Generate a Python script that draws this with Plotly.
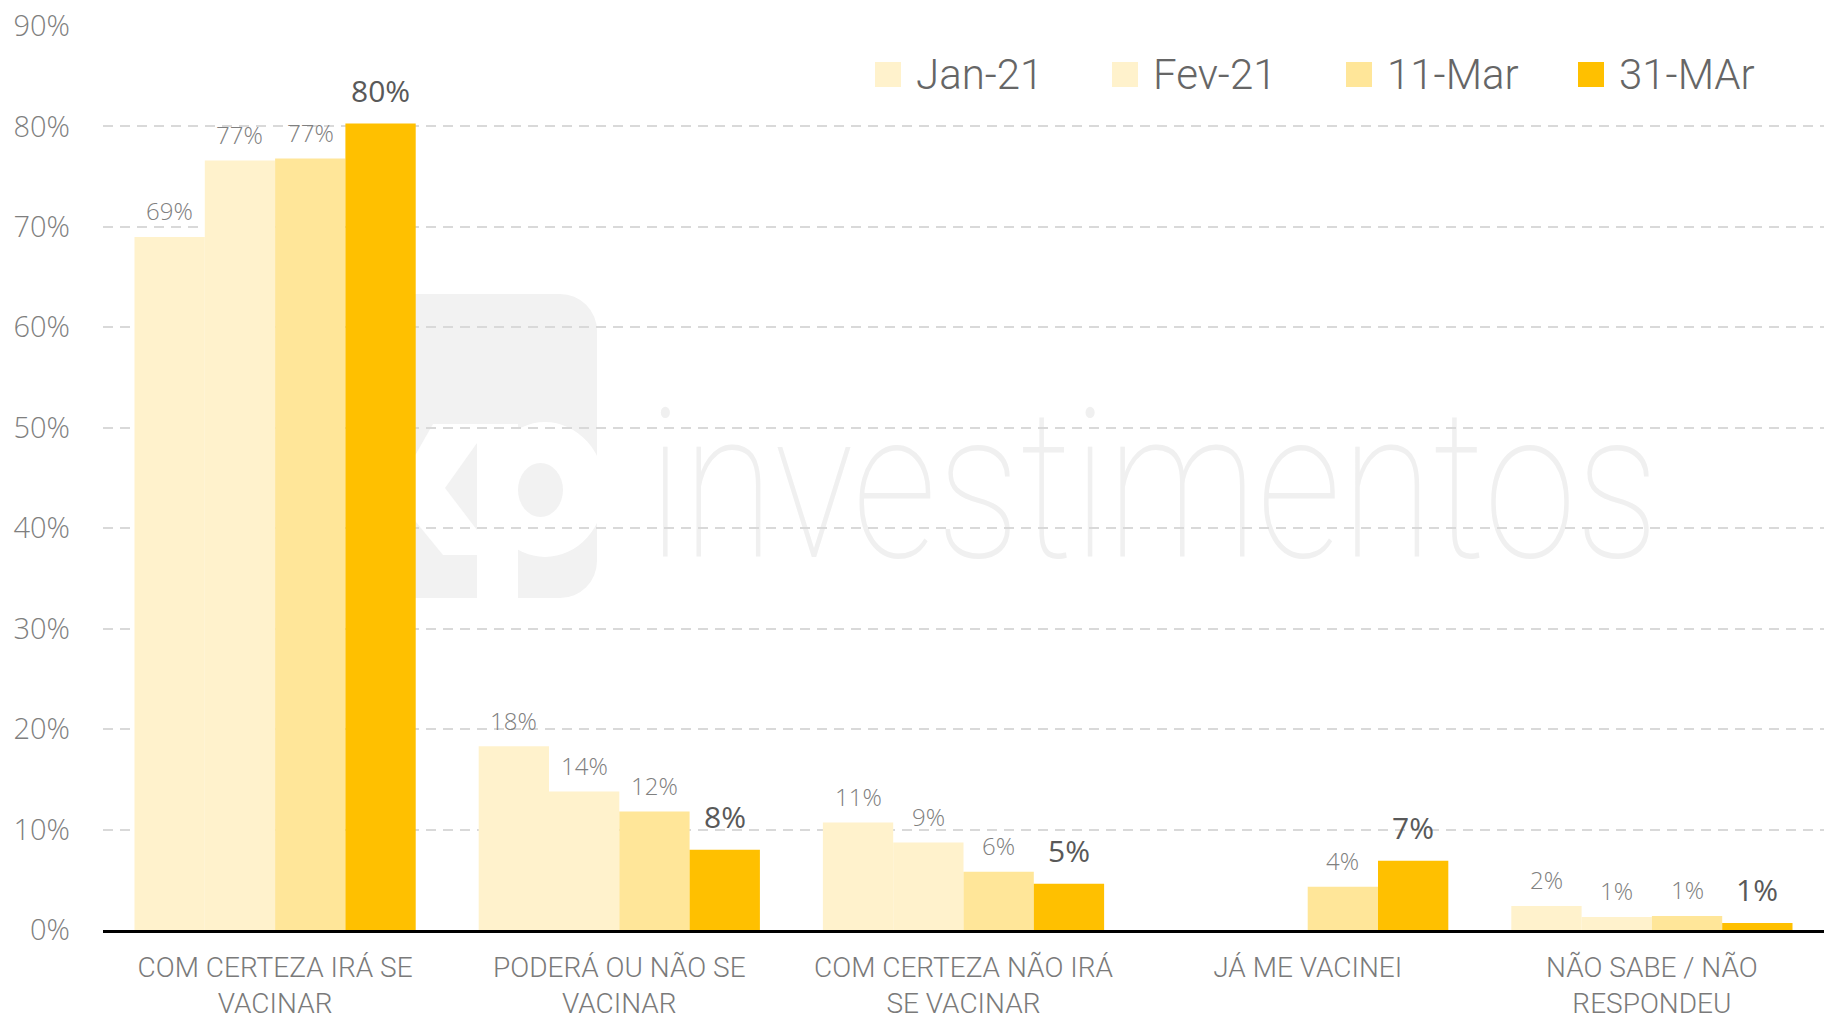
import base64
import plotly.graph_objects as go

# ---------------- data ----------------
categories = [
    "COM CERTEZA IRÁ SE<br>VACINAR",
    "PODERÁ OU NÃO SE<br>VACINAR",
    "COM CERTEZA NÃO IRÁ<br>SE VACINAR",
    "JÁ ME VACINEI",
    "NÃO SABE / NÃO<br>RESPONDEU",
]
series_names = ["Jan-21", "Fev-21", "11-Mar", "31-MAr"]
jan21 = [69.0, 18.3, 10.7, None, 2.4]
fev21 = [76.6, 13.8, 8.7, None, 1.3]
mar11 = [76.8, 11.8, 5.8, 4.3, 1.4]
mar31 = [80.3, 8.0, 4.6, 6.9, 0.7]
y_tick_values = [0, 10, 20, 30, 40, 50, 60, 70, 80, 90]
y_tick_labels = ["0%", "10%", "20%", "30%", "40%", "50%", "60%", "70%", "80%", "90%"]

series_values = [jan21, fev21, mar11, mar31]
colors = ["#FFF2CC", "#FFF2CC", "#FFE699", "#FFC000"]

# ---------------- layout geometry ----------------
FIG_W, FIG_H = 1824, 1022
L, R, T, B = 103, 0, 26, 92
W = FIG_W - L - R
H = FIG_H - T - B
BARGAP = 0.183
FONT = "Roboto"
FONT2 = "Open Sans"


def xp(px):
    return (px - L) / W


def yp(py):
    return (T + H - py) / H


fig = go.Figure()
for name, vals, col in zip(series_names, series_values, colors):
    fig.add_trace(go.Bar(
        x=categories, y=vals, name=name,
        marker=dict(color=col, line=dict(width=0)),
        showlegend=False, hoverinfo="skip",
    ))

# ---------------- data labels ----------------
pitch = W / len(categories)
barw = pitch * (1 - BARGAP) / len(series_names)
annotations = []
for i, vals in enumerate(series_values):
    last = i == len(series_values) - 1
    for cat, v in zip(categories, vals):
        if v is None:
            continue
        annotations.append(dict(
            x=cat, y=v, xref="x", yref="y",
            text=f"{v:.0f}%", showarrow=False,
            xanchor="center", yanchor="middle",
            xshift=(i - 1.5) * barw,
            yshift=33 if last else 26,
            font=dict(family=FONT2, size=30 if last else 24,
                      color="#595959" if last else "#808080",
                      weight=500 if last else 300),
        ))

# ---------------- manual legend ----------------
legend_x = [875, 1112, 1346, 1578]
shapes = []
for name, col, lx in zip(series_names, colors, legend_x):
    shapes.append(dict(type="rect", xref="paper", yref="paper",
                       x0=xp(lx), x1=xp(lx + 26), y0=yp(87), y1=yp(62),
                       fillcolor=col, line=dict(width=0), layer="above"))
    annotations.append(dict(x=xp(lx + 13 + 26), y=yp(74.5), xref="paper", yref="paper",
                            text=name, showarrow=False, xanchor="left", yanchor="middle",
                            font=dict(family=FONT, size=42, color="#666666", weight=300)))

# ---------------- watermark ----------------
svg = f'''<svg xmlns="http://www.w3.org/2000/svg" width="{FIG_W}" height="{FIG_H}" viewBox="0 0 {FIG_W} {FIG_H}">
<rect x="370" y="294" width="227" height="304" rx="37" fill="#f2f2f2"/>
<rect x="380" y="424" width="125" height="131" fill="#ffffff"/>
<rect x="477" y="424" width="41" height="175" fill="#ffffff"/>
<ellipse cx="545" cy="489.5" rx="60" ry="67.5" fill="#ffffff"/>
<polygon points="477,443 445,488 477,530" fill="#f2f2f2"/>
<polygon points="433,424 380,424 380,517" fill="#f2f2f2"/>
<polygon points="380,478 443,555 380,555" fill="#f2f2f2"/>
<ellipse cx="540.5" cy="490" rx="22.5" ry="27" fill="#f2f2f2"/>
<text x="648" y="557" font-family="Roboto" font-weight="100" font-size="208" textLength="1011" lengthAdjust="spacingAndGlyphs" fill="#f0f0f0">investimentos</text>
</svg>'''
src = "data:image/svg+xml;base64," + base64.b64encode(svg.encode("utf-8")).decode("ascii")

fig.update_layout(
    width=FIG_W, height=FIG_H,
    margin=dict(l=L, r=R, t=T, b=B, pad=0),
    paper_bgcolor="white", plot_bgcolor="rgba(0,0,0,0)",
    barmode="group", bargap=BARGAP, bargroupgap=0,
    showlegend=False,
    font=dict(family=FONT, color="#7f7f7f", weight=300),
    annotations=annotations,
    shapes=shapes,
    images=[dict(source=src, xref="paper", yref="paper",
                 x=xp(0), y=yp(0), sizex=FIG_W / W, sizey=FIG_H / H,
                 xanchor="left", yanchor="top", sizing="stretch", layer="below")],
    xaxis=dict(
        showgrid=False, zeroline=False, ticks="",
        showline=True, linecolor="#000000", linewidth=3,
        tickfont=dict(family=FONT, size=28, color="#7a7a7a", weight=300),
        ticklabelstandoff=10, fixedrange=True, automargin=False,
    ),
    yaxis=dict(
        range=[0, 90], tickvals=y_tick_values, ticktext=y_tick_labels,
        showgrid=True, gridcolor="#d9d9d9", gridwidth=2, griddash="10px,7px",
        zeroline=False, showline=False, ticks="",
        tickfont=dict(family=FONT2, size=29, color="#7f7f7f", weight=300),
        ticklabelstandoff=32, fixedrange=True, automargin=False,
    ),
)

fig.write_html(
    "out.html",
    config={"displayModeBar": False},
    post_script="document.body.style.margin='0';document.body.style.overflow='hidden';",
)
